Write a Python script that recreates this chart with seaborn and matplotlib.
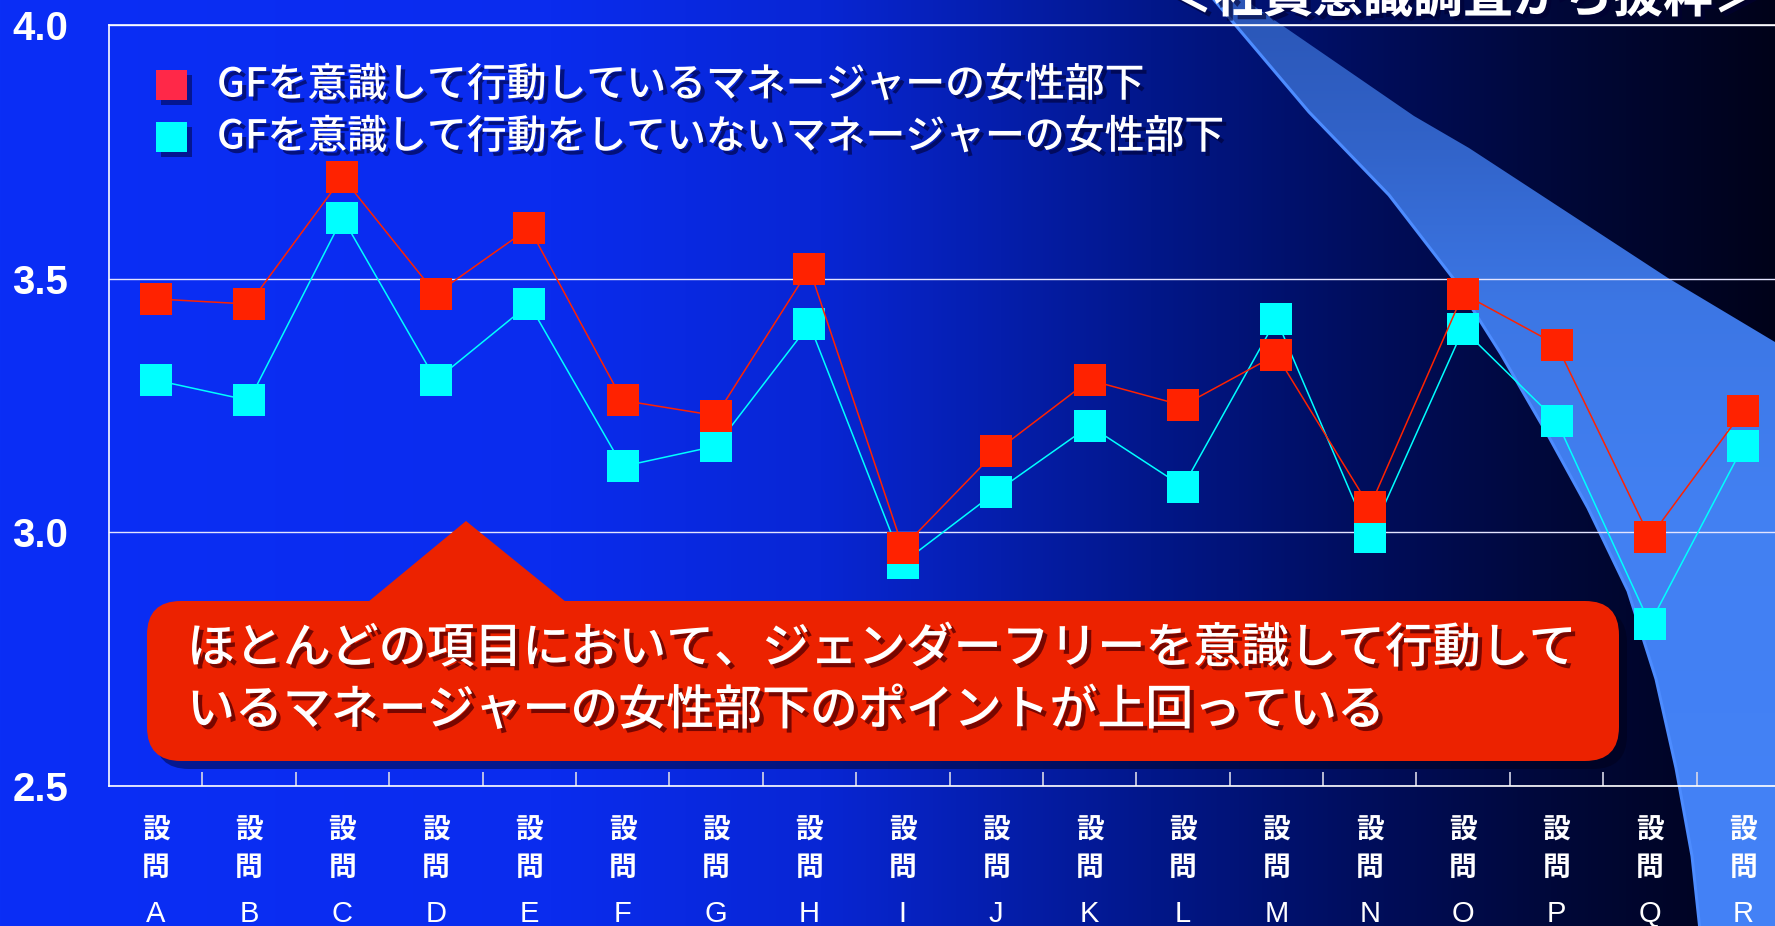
import numpy as np
import pandas as pd
import matplotlib
matplotlib.use("Agg")
import matplotlib.pyplot as plt
import seaborn as sns
from matplotlib.patches import Rectangle, Polygon, FancyBboxPatch
import matplotlib.patheffects as pe
import matplotlib.transforms as mtransforms

# ---- data -------------------------------------------------------------
questions = list("ABCDEFGHIJKLMNOPQR")
aware = [3.46, 3.45, 3.70, 3.47, 3.60, 3.26, 3.23, 3.52, 2.97,
         3.16, 3.30, 3.25, 3.35, 3.05, 3.47, 3.37, 2.99, 3.24]
not_aware = [3.30, 3.26, 3.62, 3.30, 3.45, 3.13, 3.17, 3.41, 2.94,
             3.08, 3.21, 3.09, 3.42, 2.99, 3.40, 3.22, 2.82, 3.17]
series_names = ["GFを意識して行動しているマネージャーの女性部下",
                "GFを意識して行動をしていないマネージャーの女性部下"]
y_ticks = [2.5, 3.0, 3.5, 4.0]
title = "＜社員意識調査から抜粋＞"
callout_lines = ["ほとんどの項目において、ジェンダーフリーを意識して行動して",
                 "いるマネージャーの女性部下のポイントが上回っている"]

RED = "#ff2200"
RED_KEY = "#ff2848"
CYAN = "#00ffff"
CALLOUT = "#ec2200"

sns.set_theme(style="white")
plt.rcParams["font.family"] = ["Noto Sans CJK JP", "DejaVu Sans"]
LATIN = ["Liberation Sans", "DejaVu Sans"]

W, H = 1775, 926
fig = plt.figure(figsize=(W / 100, H / 100), dpi=100)

# ---- background: horizontal blue-to-black gradient --------------------
bg = fig.add_axes([0, 0, 1, 1], zorder=0)
bg.set_xlim(0, W)
bg.set_ylim(H, 0)
bg.axis("off")

xs = np.arange(W)
stops_x = [0, 550, 820, 1000, 1150, 1350, 1550, 1775]
stops_c = np.array([(10, 46, 246), (10, 44, 238), (8, 38, 212), (5, 30, 172),
                    (2, 23, 138), (0, 14, 95), (0, 8, 58), (0, 2, 25)]) / 255
grad = np.stack([np.interp(xs, stops_x, stops_c[:, k]) for k in range(3)], axis=-1)
bg.imshow(grad[None, :, :], extent=[0, W, H, 0], aspect="auto", zorder=0)

# light-blue sweeping band on the right
left_edge = [(1210, -5), (1309, 112), (1389, 195), (1453, 278), (1501, 354),
             (1549, 437), (1588, 508), (1628, 591), (1656, 679), (1676, 768),
             (1692, 856), (1700, 930)]
right_edge = [(1780, 345), (1668, 278), (1469, 148), (1414, 116), (1238, -5)]
band_pts = left_edge + [(1780, 930)] + right_edge
band_patch = Polygon(band_pts, closed=True, facecolor="none", edgecolor="none")
bg.add_patch(band_patch)
ys = np.arange(H)
band_y = [0, 150, 300, 500, 926]
band_c = np.array([(42, 85, 182), (50, 100, 202), (60, 118, 228),
                   (66, 128, 242), (68, 130, 247)]) / 255
bgrad = np.stack([np.interp(ys, band_y, band_c[:, k]) for k in range(3)], axis=-1)
im = bg.imshow(bgrad[:, None, :], extent=[0, W, H, 0], aspect="auto", zorder=1)
im.set_clip_path(band_patch)
bg.plot([p[0] for p in left_edge], [p[1] for p in left_edge],
        color=(0.30, 0.55, 1.0), lw=2.2, zorder=2)

# ---- main chart -------------------------------------------------------
ax = fig.add_axes([109 / W, (H - 786) / H, 1681 / W, 761 / H], zorder=2)
ax.patch.set_alpha(0)

df = pd.DataFrame({
    "位置": list(range(len(questions))) * 2,
    "スコア": aware + not_aware,
    "区分": [series_names[0]] * len(questions) + [series_names[1]] * len(questions),
})
sns.lineplot(data=df, x="位置", y="スコア", hue="区分",
             hue_order=[series_names[1], series_names[0]],
             palette={series_names[0]: RED, series_names[1]: CYAN},
             marker="s", markersize=23.4, markeredgewidth=0, linewidth=1.1,
             sort=False, errorbar=None, legend=False, ax=ax)

ax.set_xlim(-0.5, len(questions) - 0.5)
ax.set_ylim(y_ticks[0], y_ticks[-1])
ax.set_xlabel("")
ax.set_ylabel("")

ax.set_yticks(y_ticks)
ax.set_yticklabels([f"{v:.1f}" for v in y_ticks])
ax.tick_params(axis="y", length=0, pad=29.5, labelsize=29, labelcolor="white")
for lbl in ax.get_yticklabels():
    lbl.set_fontfamily(LATIN)
    lbl.set_fontweight("bold")

ax.set_xticks(range(len(questions)))
ax.set_xticklabels(questions)
ax.tick_params(axis="x", which="major", length=0, pad=82, labelsize=21,
               labelcolor="white")
for lbl in ax.get_xticklabels():
    lbl.set_fontfamily(LATIN)
ax.set_xticks(np.arange(0.5, len(questions) - 0.5, 1), minor=True)
ax.tick_params(axis="x", which="minor", direction="in", length=10, width=1.2,
               color="#d8d8e8", bottom=True)

ax.grid(axis="y", color="#e4e4ff", lw=1.0)
ax.grid(axis="x", visible=False)
ax.set_axisbelow(True)
for side in ["top", "left", "bottom"]:
    ax.spines[side].set_color("white")
    ax.spines[side].set_linewidth(1.2)
ax.spines["right"].set_visible(False)

# stacked 設/問 above each question letter
trans = mtransforms.blended_transform_factory(ax.transData, ax.transAxes)
for i in range(len(questions)):
    for ch, ypix in (("設", 831), ("問", 868)):
        ax.text(i, (786 - ypix) / 761, ch, transform=trans, ha="center",
                va="center", fontsize=20, fontweight="bold", color="white",
                clip_on=False)

# ---- overlay: legend, callout, heading --------------------------------
ov = fig.add_axes([0, 0, 1, 1], zorder=5)
ov.set_xlim(0, W)
ov.set_ylim(H, 0)
ov.axis("off")

text_shadow = [pe.withSimplePatchShadow(offset=(3, -3), shadow_rgbFace="#000033",
                                        alpha=0.6)]
for name, color, yc in ((series_names[0], RED_KEY, 85), (series_names[1], CYAN, 137)):
    ov.add_patch(Rectangle((161, yc - 10), 31, 30, facecolor="#000030", alpha=0.5,
                           edgecolor="none"))
    ov.add_patch(Rectangle((156, yc - 15), 31, 30, facecolor=color, edgecolor="none"))
    ov.text(217, yc, name, ha="left", va="center", fontsize=28.7,
            fontweight="medium", color="white", path_effects=text_shadow)

# callout box with pointer
box = dict(boxstyle="round,pad=0,rounding_size=34")
tri = [(368, 602), (466, 521), (566, 602)]
ov.add_patch(FancyBboxPatch((155, 609), 1472, 160, facecolor="#000018", alpha=0.45,
                            edgecolor="none", **box))
ov.add_patch(Polygon([(x + 6, y + 6) for x, y in tri], facecolor="#000018",
                     alpha=0.35, edgecolor="none"))
ov.add_patch(Polygon(tri, facecolor=CALLOUT, edgecolor="none"))
ov.add_patch(FancyBboxPatch((147, 601), 1472, 160, facecolor=CALLOUT,
                            edgecolor="none", **box))
call_shadow = [pe.withSimplePatchShadow(offset=(3, -3), shadow_rgbFace="#5a0000",
                                        alpha=0.8)]
for line, yc in zip(callout_lines, (649, 711)):
    ov.text(187, yc, line, ha="left", va="center", fontsize=34.5,
            fontweight="medium", color="white", path_effects=call_shadow)

ov.text(1763, 12, title, ha="right", va="baseline", fontsize=36, fontweight="bold",
        color="white", path_effects=text_shadow)

fig.savefig("out.png", dpi=100)
